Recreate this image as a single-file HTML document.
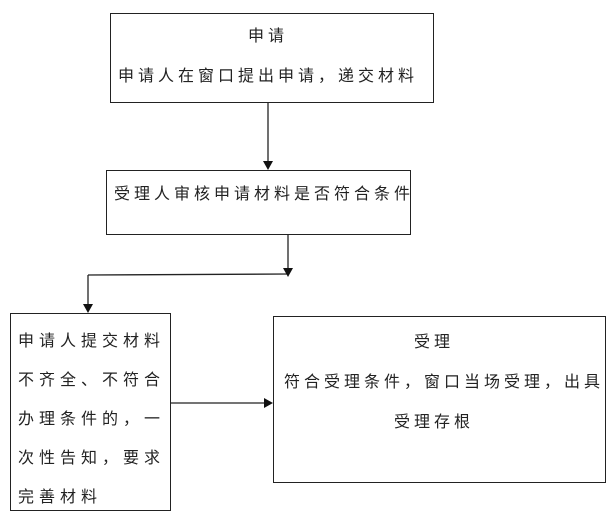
<!DOCTYPE html>
<html><head><meta charset="utf-8"><style>
body{margin:0;width:616px;height:522px;background:#fff;position:relative;overflow:hidden;font-family:"Liberation Sans","Noto Sans CJK SC",sans-serif;color:#222}
.b{position:absolute;border:1.5px solid #222;box-sizing:border-box}
.t{position:absolute;font-size:16px;white-space:nowrap;letter-spacing:4px}
</style></head><body>
<div class="b" style="left:110px;top:13px;width:324px;height:90px"></div>
<div class="t" style="left:248px;top:22px">申请</div>
<div class="t" style="left:118px;top:62px">申请人在窗口提出申请，递交材料</div>
<div class="b" style="left:106px;top:170px;width:305px;height:65px"></div>
<div class="t" style="left:114px;top:180px">受理人审核申请材料是否符合条件</div>
<div class="b" style="left:10px;top:313px;width:161px;height:198px"></div>
<div class="t" style="left:18px;top:322px;line-height:39px;letter-spacing:5px">申请人提交材料<br>不齐全、不符合<br>办理条件的，一<br>次性告知，要求<br>完善材料</div>
<div class="b" style="left:273px;top:316px;width:333px;height:167px"></div>
<div class="t" style="left:414px;top:328px">受理</div>
<div class="t" style="left:284px;top:368px">符合受理条件，窗口当场受理，出具</div>
<div class="t" style="left:394px;top:408px">受理存根</div>
<svg width="616" height="522" style="position:absolute;left:0;top:0">
<g stroke="#222" stroke-width="1.3" fill="none">
<line x1="268" y1="103" x2="268" y2="163"/>
<line x1="288" y1="235" x2="288" y2="270"/>
<line x1="88" y1="275" x2="288" y2="274"/>
<line x1="88" y1="275" x2="88" y2="306"/>
<line x1="171" y1="403" x2="266" y2="403"/>
</g>
<g fill="#111">
<polygon points="263,161 273,161 268,170"/>
<polygon points="283,268 293,268 288,277"/>
<polygon points="83,304 93,304 88,313"/>
<polygon points="264,398 264,408 273,403"/>
</g>
</svg>
</body></html>
